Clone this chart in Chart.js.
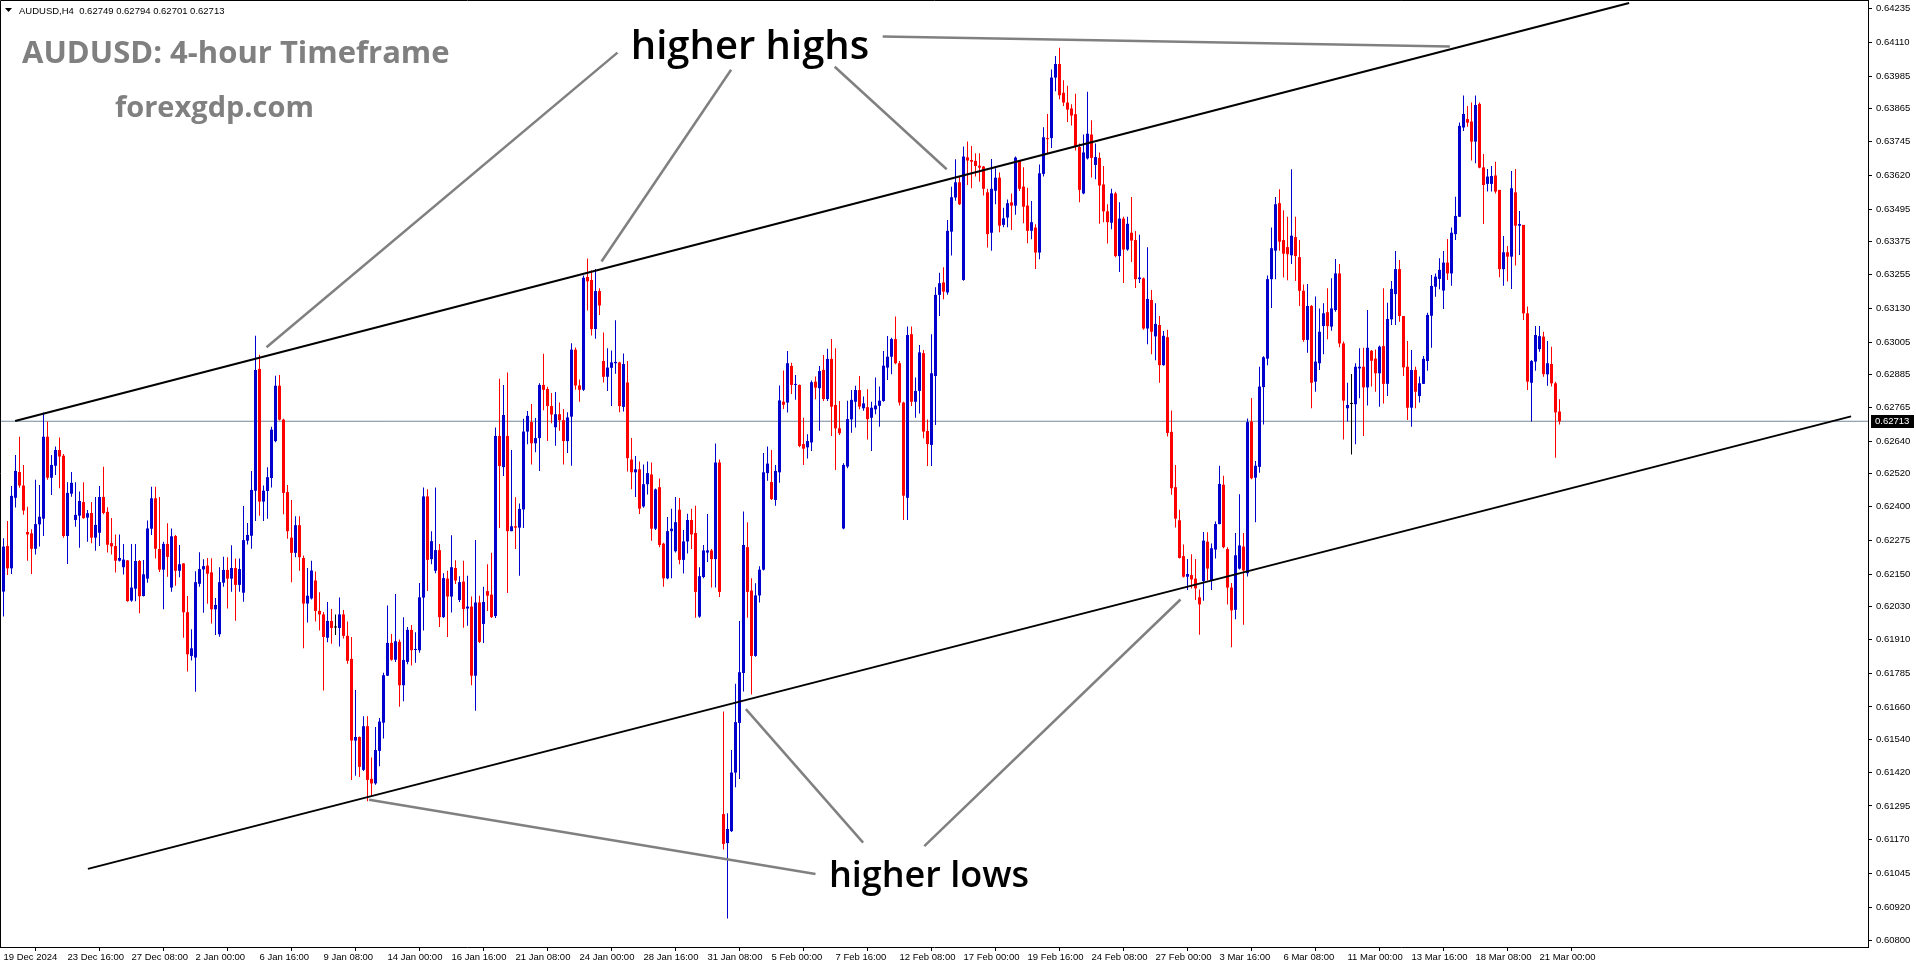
<!DOCTYPE html>
<html>
<head>
<meta charset="utf-8">
<script src="https://cdn.jsdelivr.net/npm/chart.js@4.4.1/dist/chart.umd.min.js"></script>
<style>
  html, body { margin: 0; padding: 0; background: #fff; overflow: hidden; }
  canvas { display: block; }
</style>
</head>
<body>
<canvas id="chart" width="1916" height="964"></canvas>
<script>
// AUDUSD H4 candles, 19 Dec 2024 -> 21 Mar 2025 (one entry per bar)
const opens = [
0.62085,0.62253,0.62171,0.62431,0.62526,0.62476,0.62305,0.62300,0.62243,0.62333,
0.62354,0.62656,0.62505,0.62549,0.62607,0.62586,0.62290,0.62446,0.62349,0.62365,
0.62415,0.62358,0.62375,0.62284,0.62302,0.62434,0.62379,0.62264,0.62253,0.62199,
0.62175,0.62200,0.62052,0.62096,0.62198,0.62069,0.62133,0.62317,0.62429,0.62242,
0.62166,0.62261,0.62100,0.62290,0.62162,0.62189,0.62009,0.61848,0.61842,0.62114,
0.62167,0.62181,0.62156,0.62020,0.61928,0.62118,0.62165,0.62133,0.62172,0.62110,
0.62081,0.62273,0.62291,0.62457,0.62906,0.62417,0.62456,0.62504,0.62640,0.62844,
0.62719,0.62452,0.62284,0.62228,0.62330,0.62209,0.62041,0.62060,0.62126,0.62014,
0.62001,0.61915,0.61977,0.61953,0.61951,0.62001,0.61922,0.61837,0.61536,0.61549,
0.61428,0.61589,0.61395,0.61378,0.61498,0.61602,0.61775,0.61896,0.61834,0.61900,
0.61740,0.61826,0.61944,0.61870,0.61869,0.62063,0.62436,0.62205,0.62162,0.62238,
0.61991,0.62133,0.62067,0.62172,0.62054,0.62122,0.62023,0.62030,0.61775,0.62045,
0.61966,0.62087,0.62074,0.61995,0.62659,0.62544,0.62659,0.62308,0.62326,0.62321,
0.62388,0.62675,0.62710,0.62632,0.62651,0.62847,0.62832,0.62769,0.62691,0.62739,
0.62717,0.62640,0.62730,0.62977,0.62845,0.62829,0.63245,0.63234,0.63053,0.63193,
0.62935,0.62877,0.62910,0.62927,0.62930,0.62766,0.62856,0.62572,0.62525,0.62536,
0.62399,0.62481,0.62517,0.62317,0.62470,0.62262,0.62134,0.62308,0.62234,0.62387,
0.62202,0.62270,0.62349,0.62301,0.61993,0.62139,0.62229,0.62237,0.62205,0.62561,
0.61265,0.61158,0.61202,0.61418,0.61601,0.61785,0.62249,0.62089,0.61848,0.62071,
0.62166,0.62522,0.62489,0.62423,0.62525,0.62785,0.62782,0.62917,0.62847,0.62847,
0.62629,0.62617,0.62635,0.62859,0.62835,0.62902,0.62795,0.62943,0.62773,0.62687,
0.62318,0.62546,0.62720,0.62785,0.62828,0.62761,0.62765,0.62726,0.62757,0.62770,
0.62788,0.62911,0.62951,0.63016,0.62927,0.62782,0.62431,0.63034,0.62785,0.62825,
0.62964,0.62677,0.62626,0.62880,0.63179,0.63225,0.63188,0.63412,0.63538,0.63594,
0.63234,0.63686,0.63676,0.63673,0.63655,0.63652,0.63557,0.63408,0.63563,0.63611,
0.63437,0.63464,0.63520,0.63508,0.63673,0.63578,0.63508,0.63415,0.63427,0.63335,
0.63625,0.63756,0.63757,0.63980,0.64030,0.63924,0.63888,0.63866,0.63845,0.63724,
0.63553,0.63682,0.63770,0.63658,0.63684,0.63586,0.63487,0.63445,0.63553,0.63322,
0.63460,0.63346,0.63408,0.63381,0.63237,0.63240,0.63055,0.63160,0.63026,0.63068,
0.62920,0.63023,0.62674,0.62470,0.62348,0.62216,0.62140,0.62146,0.62133,0.62064,
0.62124,0.62269,0.62126,0.62240,0.62334,0.62479,0.62242,0.62100,0.62018,0.62170,
0.62251,0.62153,0.62712,0.62505,0.62545,0.62839,0.62944,0.63237,0.63342,0.63517,
0.63381,0.63355,0.63325,0.63392,0.63318,0.63194,0.63013,0.63138,0.62859,0.62927,
0.63064,0.63115,0.63062,0.63123,0.63258,0.63000,0.62761,0.62777,0.62776,0.62908,
0.62914,0.62838,0.62973,0.62944,0.62890,0.62990,0.62851,0.63089,0.63182,0.63274,
0.63101,0.62914,0.62763,0.62902,0.62806,0.62851,0.62935,0.63102,0.63209,0.63238,
0.63195,0.63298,0.63258,0.63403,0.63467,0.63796,0.63827,0.63818,0.63744,0.63883,
0.63649,0.63588,0.63588,0.63619,0.63566,0.63274,0.63336,0.63320,0.63557,0.63434,
0.63437,0.63111,0.62855,0.62933,0.62979,0.63025,0.62886,0.62924,0.62853,0.62749
];
const highs = [
0.62282,0.62345,0.62474,0.62589,0.62656,0.62552,0.62398,0.62315,0.62497,0.62478,
0.62745,0.62712,0.62589,0.62620,0.62653,0.62592,0.62488,0.62526,0.62488,0.62454,
0.62488,0.62386,0.62415,0.62434,0.62474,0.62545,0.62396,0.62356,0.62296,0.62296,
0.62261,0.62202,0.62261,0.62261,0.62202,0.62202,0.62347,0.62472,0.62472,0.62434,
0.62269,0.62337,0.62318,0.62294,0.62257,0.62190,0.62069,0.61946,0.62160,0.62230,
0.62204,0.62209,0.62208,0.62062,0.62175,0.62214,0.62212,0.62256,0.62207,0.62207,
0.62401,0.62338,0.62530,0.63028,0.62958,0.62476,0.62544,0.62693,0.62881,0.62884,
0.62722,0.62478,0.62423,0.62363,0.62363,0.62218,0.62172,0.62199,0.62159,0.62083,
0.62010,0.62047,0.62021,0.62001,0.62063,0.62017,0.61975,0.61918,0.61722,0.61551,
0.61626,0.61626,0.61474,0.61586,0.61619,0.61786,0.62034,0.61929,0.62076,0.61909,
0.61991,0.61955,0.61962,0.61935,0.62117,0.62469,0.62462,0.62308,0.62469,0.62261,
0.62153,0.62162,0.62293,0.62201,0.62142,0.62199,0.62144,0.62067,0.62275,0.62070,
0.62103,0.62186,0.62228,0.62690,0.62870,0.62847,0.62893,0.62607,0.62433,0.62410,
0.62722,0.62751,0.62777,0.62725,0.62853,0.62962,0.62840,0.62817,0.62821,0.62782,
0.62758,0.62746,0.63001,0.62985,0.62867,0.63250,0.63313,0.63270,0.63274,0.63203,
0.63040,0.62982,0.62974,0.63085,0.62932,0.62963,0.62935,0.62651,0.62585,0.62565,
0.62554,0.62565,0.62561,0.62465,0.62502,0.62265,0.62360,0.62391,0.62434,0.62430,
0.62312,0.62372,0.62391,0.62402,0.62175,0.62257,0.62371,0.62242,0.62631,0.62572,
0.61643,0.61268,0.61501,0.61745,0.61977,0.62380,0.62341,0.62134,0.62116,0.62179,
0.62596,0.62620,0.62607,0.62552,0.62845,0.62900,0.62972,0.62929,0.62884,0.62849,
0.62726,0.62665,0.62863,0.62878,0.62917,0.62957,0.62980,0.63016,0.62982,0.62788,
0.62558,0.62789,0.62828,0.62844,0.62880,0.62804,0.62831,0.62785,0.62874,0.62841,
0.62972,0.63027,0.63021,0.63099,0.62935,0.62785,0.63062,0.63062,0.62874,0.62994,
0.62976,0.62720,0.63034,0.63207,0.63261,0.63281,0.63455,0.63578,0.63679,0.63615,
0.63726,0.63744,0.63728,0.63701,0.63701,0.63654,0.63570,0.63680,0.63646,0.63630,
0.63500,0.63531,0.63553,0.63689,0.63676,0.63649,0.63574,0.63525,0.63439,0.63660,
0.63797,0.63846,0.64010,0.64060,0.64090,0.63970,0.63950,0.63882,0.63920,0.63737,
0.63770,0.63928,0.63823,0.63737,0.63704,0.63654,0.63513,0.63570,0.63559,0.63520,
0.63467,0.63467,0.63540,0.63414,0.63401,0.63243,0.63355,0.63197,0.63148,0.63101,
0.63046,0.63050,0.62753,0.62552,0.62387,0.62259,0.62205,0.62223,0.62205,0.62093,
0.62305,0.62304,0.62262,0.62344,0.62549,0.62512,0.62249,0.62117,0.62301,0.62444,
0.62301,0.62723,0.62799,0.62567,0.62914,0.62953,0.63250,0.63427,0.63540,0.63568,
0.63491,0.63467,0.63642,0.63467,0.63381,0.63217,0.63219,0.63142,0.63173,0.63129,
0.63148,0.63203,0.63240,0.63311,0.63293,0.63007,0.62855,0.62887,0.62927,0.62982,
0.62984,0.63123,0.62976,0.62978,0.62992,0.63203,0.63150,0.63230,0.63341,0.63308,
0.63101,0.63009,0.62976,0.62914,0.62878,0.62954,0.63113,0.63252,0.63258,0.63314,
0.63341,0.63385,0.63427,0.63541,0.63814,0.63914,0.63875,0.63888,0.63914,0.63888,
0.63698,0.63643,0.63654,0.63670,0.63566,0.63396,0.63359,0.63636,0.63643,0.63488,
0.63437,0.63136,0.62939,0.63064,0.63064,0.63043,0.63009,0.62988,0.62859,0.62794
];
const lows = [
0.61993,0.62146,0.62150,0.62395,0.62468,0.62368,0.62199,0.62150,0.62222,0.62251,
0.62290,0.62497,0.62441,0.62515,0.62466,0.62284,0.62187,0.62435,0.62324,0.62247,
0.62354,0.62269,0.62263,0.62236,0.62253,0.62370,0.62229,0.62222,0.62156,0.62196,
0.62148,0.62048,0.62048,0.62050,0.62005,0.62067,0.62118,0.62294,0.62207,0.62157,
0.62020,0.62140,0.62085,0.62107,0.62138,0.61915,0.61791,0.61831,0.61716,0.62103,
0.62007,0.62040,0.61968,0.61925,0.61919,0.62103,0.62023,0.62085,0.61978,0.62085,
0.62048,0.62259,0.62243,0.62345,0.62365,0.62345,0.62354,0.62469,0.62636,0.62716,
0.62370,0.62280,0.62120,0.62212,0.62162,0.61876,0.61971,0.62056,0.61975,0.61942,
0.61721,0.61898,0.61893,0.61925,0.61883,0.61912,0.61819,0.61391,0.61406,0.61402,
0.61424,0.61312,0.61329,0.61373,0.61441,0.61544,0.61774,0.61830,0.61826,0.61661,
0.61681,0.61817,0.61813,0.61823,0.61860,0.61942,0.62087,0.62186,0.62153,0.61955,
0.61988,0.61918,0.62008,0.62113,0.62047,0.61952,0.61959,0.61740,0.61646,0.61896,
0.61896,0.62014,0.61988,0.61988,0.62320,0.62511,0.62080,0.62308,0.62242,0.62144,
0.62320,0.62628,0.62554,0.62599,0.62530,0.62754,0.62640,0.62706,0.62623,0.62678,
0.62554,0.62596,0.62549,0.62829,0.62785,0.62825,0.63121,0.63029,0.63017,0.63105,
0.62856,0.62825,0.62769,0.62888,0.62746,0.62749,0.62528,0.62462,0.62434,0.62371,
0.62394,0.62443,0.62273,0.62312,0.62249,0.62103,0.62131,0.62134,0.62229,0.62186,
0.62152,0.62226,0.62242,0.61989,0.61989,0.62134,0.62194,0.62100,0.62100,0.62065,
0.61134,0.60880,0.61199,0.61364,0.61394,0.61717,0.61989,0.61706,0.61845,0.62045,
0.62163,0.62494,0.62423,0.62402,0.62486,0.62758,0.62745,0.62814,0.62792,0.62617,
0.62552,0.62576,0.62603,0.62794,0.62678,0.62788,0.62788,0.62659,0.62533,0.62662,
0.62315,0.62540,0.62671,0.62690,0.62757,0.62752,0.62646,0.62603,0.62739,0.62693,
0.62785,0.62865,0.62886,0.62923,0.62771,0.62349,0.62349,0.62769,0.62726,0.62742,
0.62650,0.62548,0.62548,0.62699,0.63101,0.63163,0.63179,0.63324,0.63526,0.63510,
0.63231,0.63584,0.63572,0.63615,0.63596,0.63545,0.63354,0.63342,0.63513,0.63410,
0.63428,0.63428,0.63418,0.63474,0.63562,0.63443,0.63369,0.63384,0.63274,0.63310,
0.63615,0.63701,0.63720,0.63930,0.63900,0.63875,0.63816,0.63803,0.63711,0.63520,
0.63550,0.63678,0.63612,0.63605,0.63441,0.63447,0.63368,0.63421,0.63318,0.63263,
0.63223,0.63342,0.63300,0.63204,0.63223,0.63050,0.62997,0.62960,0.62938,0.62855,
0.62918,0.62657,0.62442,0.62321,0.62207,0.62137,0.62091,0.62097,0.62054,0.61926,
0.62051,0.62126,0.62091,0.62207,0.62333,0.62245,0.62038,0.61880,0.61983,0.62167,
0.61963,0.62141,0.62499,0.62341,0.62523,0.62701,0.62920,0.63131,0.63237,0.63342,
0.63243,0.63233,0.63293,0.63230,0.63138,0.63006,0.62966,0.62761,0.62822,0.62902,
0.62960,0.63015,0.63047,0.63117,0.62986,0.62646,0.62712,0.62591,0.62628,0.62798,
0.62659,0.62771,0.62841,0.62822,0.62767,0.62779,0.62806,0.63068,0.63068,0.63080,
0.62880,0.62718,0.62693,0.62761,0.62782,0.62850,0.62899,0.62984,0.63172,0.63200,
0.63127,0.63234,0.63213,0.63381,0.63466,0.63783,0.63799,0.63674,0.63664,0.63646,
0.63440,0.63560,0.63560,0.63553,0.63244,0.63213,0.63228,0.63201,0.63287,0.63326,
0.63086,0.62828,0.62712,0.62899,0.62969,0.62877,0.62844,0.62841,0.62579,0.62701
];
const closes = [
0.62251,0.62171,0.62438,0.62530,0.62476,0.62384,0.62296,0.62243,0.62334,0.62361,
0.62656,0.62505,0.62552,0.62607,0.62583,0.62290,0.62449,0.62486,0.62368,0.62419,
0.62356,0.62374,0.62284,0.62331,0.62434,0.62375,0.62258,0.62252,0.62199,0.62209,
0.62203,0.62050,0.62100,0.62198,0.62068,0.62149,0.62318,0.62429,0.62243,0.62166,
0.62261,0.62213,0.62289,0.62162,0.62186,0.62009,0.61854,0.61876,0.62120,0.62168,
0.62179,0.62151,0.62020,0.62036,0.62120,0.62165,0.62133,0.62172,0.62110,0.62168,
0.62275,0.62294,0.62460,0.62902,0.62417,0.62457,0.62507,0.62682,0.62844,0.62719,
0.62449,0.62308,0.62228,0.62330,0.62212,0.62041,0.62070,0.62163,0.62014,0.62001,
0.61918,0.61977,0.61951,0.61953,0.62001,0.61922,0.61830,0.61536,0.61549,0.61439,
0.61589,0.61391,0.61378,0.61501,0.61606,0.61777,0.61896,0.61834,0.61902,0.61740,
0.61833,0.61944,0.61869,0.61873,0.62064,0.62436,0.62202,0.62271,0.62238,0.61991,
0.62135,0.62067,0.62175,0.62126,0.62120,0.62021,0.62030,0.61775,0.62045,0.61900,
0.62047,0.62070,0.61991,0.62659,0.62548,0.62736,0.62308,0.62326,0.62321,0.62390,
0.62675,0.62733,0.62632,0.62651,0.62847,0.62829,0.62769,0.62738,0.62739,0.62717,
0.62640,0.62727,0.62977,0.62845,0.62829,0.63242,0.63229,0.63053,0.63193,0.63140,
0.62877,0.62911,0.62930,0.62932,0.62769,0.62924,0.62577,0.62525,0.62536,0.62391,
0.62481,0.62522,0.62317,0.62462,0.62257,0.62134,0.62308,0.62317,0.62341,0.62202,
0.62270,0.62349,0.62296,0.62084,0.62142,0.62237,0.62237,0.62205,0.62561,0.62084,
0.61155,0.61210,0.61418,0.61604,0.61788,0.62257,0.62084,0.61848,0.62071,0.62166,
0.62525,0.62557,0.62426,0.62530,0.62790,0.62774,0.62927,0.62847,0.62849,0.62622,
0.62612,0.62640,0.62857,0.62837,0.62898,0.62795,0.62943,0.62767,0.62687,0.62669,
0.62552,0.62721,0.62792,0.62828,0.62767,0.62779,0.62721,0.62763,0.62771,0.62789,
0.62918,0.62951,0.63016,0.62927,0.62782,0.62439,0.63031,0.62785,0.62825,0.62967,
0.62675,0.62629,0.62890,0.63179,0.63222,0.63191,0.63415,0.63539,0.63594,0.63513,
0.63689,0.63674,0.63670,0.63654,0.63648,0.63570,0.63403,0.63570,0.63611,0.63434,
0.63461,0.63517,0.63508,0.63685,0.63570,0.63504,0.63415,0.63447,0.63335,0.63627,
0.63760,0.63753,0.63980,0.64030,0.63915,0.63888,0.63862,0.63840,0.63724,0.63566,
0.63704,0.63773,0.63684,0.63687,0.63582,0.63487,0.63447,0.63553,0.63322,0.63460,
0.63346,0.63441,0.63379,0.63237,0.63243,0.63055,0.63164,0.63043,0.63072,0.62920,
0.63028,0.62670,0.62466,0.62354,0.62209,0.62140,0.62150,0.62130,0.62097,0.62038,
0.62273,0.62170,0.62245,0.62334,0.62482,0.62249,0.62100,0.62016,0.62219,0.62255,
0.62163,0.62710,0.62503,0.62549,0.62841,0.62949,0.63237,0.63351,0.63513,0.63375,
0.63331,0.63329,0.63397,0.63322,0.63194,0.63013,0.63138,0.62855,0.62933,0.63043,
0.63111,0.63064,0.63129,0.63258,0.63000,0.62789,0.62773,0.62777,0.62914,0.62914,
0.62838,0.62984,0.62936,0.62890,0.62988,0.62851,0.63090,0.63201,0.63274,0.63101,
0.62912,0.62763,0.62902,0.62822,0.62853,0.62943,0.63105,0.63212,0.63246,0.63271,
0.63298,0.63258,0.63408,0.63470,0.63802,0.63846,0.63814,0.63744,0.63879,0.63648,
0.63584,0.63615,0.63617,0.63560,0.63274,0.63336,0.63320,0.63572,0.63434,0.63440,
0.63111,0.62859,0.62935,0.63031,0.63027,0.62887,0.62927,0.62853,0.62746,0.62713
];

// time axis labels and the bar each one sits on
const timeLabels = ['19 Dec 2024','23 Dec 16:00','27 Dec 08:00','2 Jan 00:00','6 Jan 16:00','9 Jan 08:00',
  '14 Jan 00:00','16 Jan 16:00','21 Jan 08:00','24 Jan 00:00','28 Jan 16:00','31 Jan 08:00','5 Feb 00:00',
  '7 Feb 16:00','12 Feb 08:00','17 Feb 00:00','19 Feb 16:00','24 Feb 08:00','27 Feb 00:00','3 Mar 16:00',
  '6 Mar 08:00','11 Mar 00:00','13 Mar 16:00','18 Mar 08:00','21 Mar 00:00'];
const timeLabelBars = [0,16,32,48,64,80,96,112,128,144,160,176,192,208,224,240,256,272,288,304,320,336,352,368,384];

const priceTicks = [0.64235,0.64110,0.63985,0.63865,0.63745,0.63620,0.63495,0.63375,0.63255,0.63130,
  0.63005,0.62885,0.62765,0.62640,0.62520,0.62400,0.62275,0.62150,0.62030,0.61910,0.61785,0.61660,
  0.61540,0.61420,0.61295,0.61170,0.61045,0.60920,0.60800];

const lastPrice = 0.62713;
const yMin = 0.60775, yMax = 0.64266;
const xMin = -0.875, xMax = 466.125;

// channel lines (bar index, price)
const channelTop = [{ x: 2.9, y: 0.62714 }, { x: 406.4, y: 0.64255 }];
const channelBottom = [{ x: 21.1, y: 0.61063 }, { x: 461.9, y: 0.62731 }];

// grey pointer lines
const highPointers = [
  [{ x: 65.75, y: 0.62986 }, { x: 153.5, y: 0.64072 }],
  [{ x: 149.5, y: 0.63302 }, { x: 181.9, y: 0.64009 }],
  [{ x: 207.8, y: 0.64020 }, { x: 235.8, y: 0.63642 }],
  [{ x: 219.8, y: 0.64131 }, { x: 361.6, y: 0.64095 }]
];
const lowPointers = [
  [{ x: 91.4, y: 0.61318 }, { x: 203.0, y: 0.61044 }],
  [{ x: 185.6, y: 0.61652 }, { x: 214.9, y: 0.61160 }],
  [{ x: 230.2, y: 0.61147 }, { x: 294.25, y: 0.62056 }]
];

const UP = '#0000cd', DOWN = '#ff0000', FLAT = '#000000';
const candleColors = opens.map((o, i) => closes[i] > o ? UP : closes[i] < o ? DOWN : FLAT);

const axisFont = { family: '"Liberation Sans", Arial, sans-serif', size: 9.5 };

function lineSet(points, color, width, order) {
  return { type: 'line', data: points, borderColor: color, borderWidth: width,
    pointRadius: 0, fill: false, tension: 0, order: order };
}

const overlay = {
  id: 'overlay',
  afterDraw(chart) {
    const { ctx, chartArea: a, scales: { y } } = chart;
    ctx.save();
    // left / top frame
    ctx.strokeStyle = '#000';
    ctx.lineWidth = 1;
    ctx.beginPath();
    ctx.moveTo(0.5, a.bottom);
    ctx.lineTo(0.5, 0.5);
    ctx.lineTo(a.right, 0.5);
    ctx.stroke();

    // symbol header
    ctx.fillStyle = '#000';
    ctx.beginPath();
    ctx.moveTo(5, 8); ctx.lineTo(12, 8); ctx.lineTo(8.5, 12); ctx.closePath();
    ctx.fill();
    ctx.font = '9.5px "Liberation Sans", Arial, sans-serif';
    ctx.textBaseline = 'alphabetic';
    ctx.fillText('AUDUSD,H4  0.62749 0.62794 0.62701 0.62713', 19, 14);

    // watermark
    ctx.fillStyle = '#808080';
    ctx.font = 'bold 31px "Open Sans", sans-serif';
    ctx.fillText('AUDUSD: 4-hour Timeframe', 22, 63);
    ctx.font = 'bold 29px "Open Sans", sans-serif';
    ctx.fillText('forexgdp.com', 115, 117);

    // annotations
    ctx.fillStyle = '#000';
    ctx.textAlign = 'center';
    ctx.font = '600 40px "Open Sans", sans-serif';
    ctx.fillText('higher highs', 750, 59);
    ctx.font = '600 36px "Open Sans", sans-serif';
    ctx.fillText('higher lows', 929, 887);

    // current price box on the axis
    const py = y.getPixelForValue(lastPrice);
    ctx.fillStyle = '#000';
    ctx.fillRect(a.right + 3, Math.round(py) - 6, 1916 - a.right - 5, 13);
    ctx.fillStyle = '#fff';
    ctx.textAlign = 'left';
    ctx.textBaseline = 'middle';
    ctx.font = '9.5px "Liberation Sans", Arial, sans-serif';
    ctx.fillText(lastPrice.toFixed(5), a.right + 7, py + 0.5);
    ctx.restore();
  }
};

const ctx = document.getElementById('chart').getContext('2d');
new Chart(ctx, {
  type: 'bar',
  data: {
    datasets: [
      lineSet([{ x: xMin, y: lastPrice }, { x: xMax, y: lastPrice }], '#778899', 1, 10),
      {
        label: 'wicks',
        data: opens.map((o, i) => ({ x: i, y: [lows[i], highs[i]] })),
        backgroundColor: candleColors,
        barThickness: 1, grouped: false, inflateAmount: 0, borderWidth: 0, order: 6
      },
      {
        label: 'bodies',
        data: opens.map((o, i) => ({ x: i, y: [o, closes[i]] })),
        backgroundColor: candleColors,
        barThickness: 3, minBarLength: 1, grouped: false, inflateAmount: 0, borderWidth: 0, order: 5
      },
      ...highPointers.map(p => lineSet(p, '#808080', 2.5, 2)),
      ...lowPointers.map(p => lineSet(p, '#808080', 2.5, 2)),
      lineSet(channelTop, '#000', 2, 1),
      lineSet(channelBottom, '#000', 2, 1)
    ]
  },
  options: {
    responsive: false,
    animation: false,
    devicePixelRatio: 1,
    layout: { padding: 0 },
    plugins: { legend: { display: false }, tooltip: { enabled: false } },
    scales: {
      x: {
        type: 'linear', min: xMin, max: xMax, offset: false,
        grid: { drawOnChartArea: false, drawTicks: true, tickLength: 4, color: '#000' },
        border: { display: true, color: '#000' },
        ticks: {
          align: 'start', autoSkip: false, maxRotation: 0, padding: 1, color: '#000', font: axisFont,
          callback: (v, i) => timeLabels[i]
        },
        afterBuildTicks: s => { s.ticks = timeLabelBars.map(v => ({ value: v })); },
        afterFit: s => { s.height = 17; s.paddingLeft = 0; s.paddingRight = 0; }
      },
      y: {
        type: 'linear', position: 'right', min: yMin, max: yMax,
        grid: { drawOnChartArea: false, drawTicks: true, tickLength: 4, color: '#000' },
        border: { display: true, color: '#000' },
        ticks: { autoSkip: false, padding: 4, color: '#000', font: axisFont, callback: v => v.toFixed(5) },
        afterBuildTicks: s => { s.ticks = priceTicks.map(v => ({ value: v })); },
        afterFit: s => { s.width = 48; s.paddingTop = 0; s.paddingBottom = 0; }
      }
    }
  },
  plugins: [overlay]
});
</script>
</body>
</html>
